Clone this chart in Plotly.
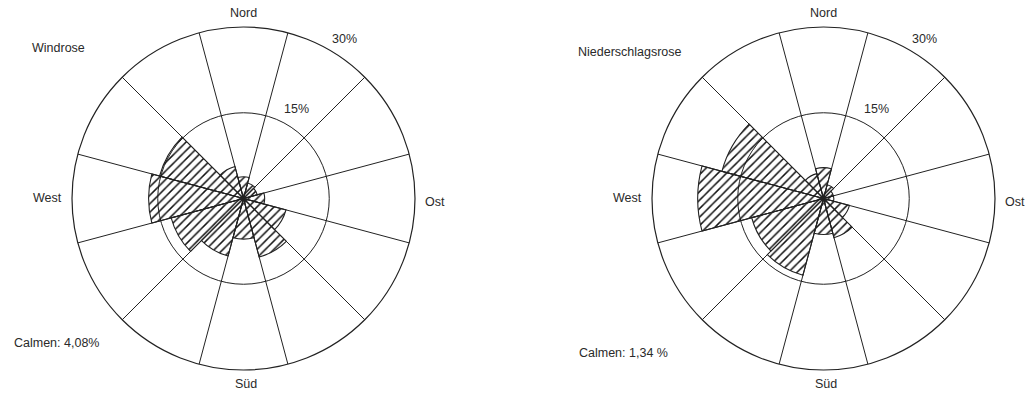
import plotly.graph_objects as go

# ---- data (percent frequency per 30° sector, sector centred on direction) ----
directions = [0, 30, 60, 90, 120, 150, 180, 210, 240, 270, 300, 330]
windrose = [3.8, 2.8, 2.5, 3.7, 7.7, 10.6, 7.1, 10.4, 13.1, 16.6, 15.2, 5.8]
niederschlag = [5.4, 2.5, 1.8, 1.8, 4.7, 7.1, 6.3, 13.9, 13.0, 22.0, 18.4, 4.5]
sector_edges = [15, 45, 75, 105, 135, 165, 195, 225, 255, 285, 315, 345]
ring_values = [15, 30]
ring_labels = ["15%", "30%"]
compass_labels = ["Nord", "Ost", "Süd", "West"]
titles = ["Windrose", "Niederschlagsrose"]
calmen = ["Calmen: 4,08%", "Calmen: 1,34 %"]

W, H = 1029, 394
M_T, M_B = 27, 24
PH = H - M_T - M_B
FONT = "Liberation Sans, Arial, sans-serif"
LINE = "#222222"
TXT = "#2a2a2a"

fig = go.Figure()

for i, (name, vals) in enumerate([("polar", windrose), ("polar2", niederschlag)]):
    fig.add_trace(go.Barpolar(
        r=vals, theta=directions, width=[30] * len(directions),
        subplot=name,
        marker=dict(color="#111111", line=dict(color=LINE, width=1.1),
                    pattern=dict(shape="/", size=6, solidity=0.25, fillmode="replace")),
        showlegend=False, hoverinfo="r+theta",
    ))

polar_common = dict(
    bgcolor="rgba(0,0,0,0)",
    hole=0,
    radialaxis=dict(range=[0, 30], tickvals=ring_values, showticklabels=False, ticks="",
                    showline=False, gridcolor=LINE, gridwidth=1.15),
    angularaxis=dict(direction="clockwise", rotation=90, tickvals=sector_edges,
                     showticklabels=False, ticks="", gridcolor=LINE, gridwidth=1.15,
                     showline=True, linecolor=LINE, linewidth=1.2),
)

centers_px = [243.5, 823.5]
half = 0.172
fig.update_layout(
    width=W, height=H,
    margin=dict(l=0, r=0, t=M_T, b=M_B),
    paper_bgcolor="white", plot_bgcolor="white",
    polar=dict(domain=dict(x=[centers_px[0] / W - half, centers_px[0] / W + half], y=[0, 1]), **polar_common),
    polar2=dict(domain=dict(x=[centers_px[1] / W - half, centers_px[1] / W + half], y=[0, 1]), **polar_common),
    font=dict(family=FONT, size=12.5, color=TXT),
)


def ann(text, px, py, xanchor="center"):
    fig.add_annotation(text=text, x=px / W, y=(H - M_B - py) / PH, xref="paper", yref="paper",
                       showarrow=False, xanchor=xanchor, yanchor="middle",
                       font=dict(family=FONT, size=12.5, color=TXT))


# label positions relative to each rose centre (pixels)
for k, cx in enumerate(centers_px):
    cy = 199
    ann(compass_labels[0], cx, cy - 186)
    ann(compass_labels[1], cx + 191, cy + 3)
    ann(compass_labels[2], cx + 2, cy + 185)
    ann(compass_labels[3], cx - 196, cy - 1)
    ann(ring_labels[0], cx + 53, cy - 90)
    ann(ring_labels[1], cx + 101, cy - 160)

ann(titles[0], 30, 48, "left")
ann(titles[1], 576, 52, "left")
ann(calmen[0], 12, 343, "left")
ann(calmen[1], 577, 353, "left")

fig.write_html("out.html", config={"displayModeBar": False},
               post_script="document.body.style.margin='0';document.body.style.overflow='hidden';")
